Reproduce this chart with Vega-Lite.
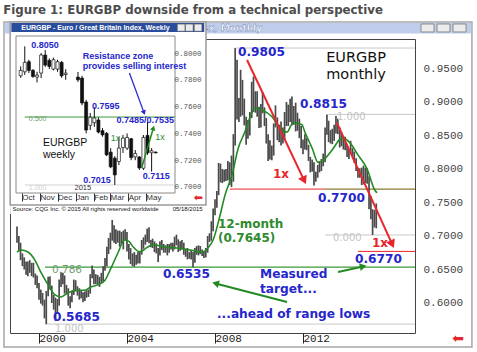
{
"$schema": "https://vega.github.io/schema/vega-lite/v6.json",
"width": 405, "height": 294,
"autosize": {"type": "none"},
"padding": {"left": 10, "top": 39, "right": 62, "bottom": 19},
"background": "white",
"config": {"view": {"stroke": "#444", "strokeWidth": 1}},
"title": {"text": "Figure 1: EURGBP downside from a technical perspective", "anchor": "start", "font": "DejaVu Sans", "fontSize": 11.8, "fontWeight": "bold", "color": "#4d4d4d", "offset": 4},
"datasets": {
"monthly": [
{"d":"1999-01","o":0.711,"h":0.714,"l":0.69,"c":0.698},{"d":"1999-02","o":0.698,"h":0.7,"l":0.678,"c":0.685},{"d":"1999-03","o":0.685,"h":0.69,"l":0.664,"c":0.672},{"d":"1999-04","o":0.672,"h":0.674,"l":0.655,"c":0.663},{"d":"1999-05","o":0.663,"h":0.668,"l":0.65,"c":0.655},{"d":"1999-06","o":0.655,"h":0.662,"l":0.642,"c":0.649},{"d":"1999-07","o":0.649,"h":0.662,"l":0.64,"c":0.658},{"d":"1999-08","o":0.658,"h":0.664,"l":0.645,"c":0.648},{"d":"1999-09","o":0.648,"h":0.66,"l":0.64,"c":0.654},{"d":"1999-10","o":0.654,"h":0.66,"l":0.638,"c":0.641},{"d":"1999-11","o":0.641,"h":0.644,"l":0.627,"c":0.63},{"d":"1999-12","o":0.63,"h":0.641,"l":0.622,"c":0.626},
{"d":"2000-01","o":0.626,"h":0.63,"l":0.605,"c":0.611},{"d":"2000-02","o":0.611,"h":0.62,"l":0.599,"c":0.611},{"d":"2000-03","o":0.611,"h":0.615,"l":0.596,"c":0.602},{"d":"2000-04","o":0.602,"h":0.605,"l":0.577,"c":0.582},{"d":"2000-05","o":0.582,"h":0.618,"l":0.5685,"c":0.613},{"d":"2000-06","o":0.613,"h":0.639,"l":0.61,"c":0.632},{"d":"2000-07","o":0.632,"h":0.64,"l":0.62,"c":0.624},{"d":"2000-08","o":0.624,"h":0.626,"l":0.6,"c":0.609},{"d":"2000-09","o":0.609,"h":0.612,"l":0.59,"c":0.605},{"d":"2000-10","o":0.605,"h":0.608,"l":0.573,"c":0.586},{"d":"2000-11","o":0.586,"h":0.606,"l":0.584,"c":0.6},{"d":"2000-12","o":0.6,"h":0.635,"l":0.596,"c":0.63},
{"d":"2001-01","o":0.63,"h":0.646,"l":0.624,"c":0.637},{"d":"2001-02","o":0.637,"h":0.645,"l":0.628,"c":0.634},{"d":"2001-03","o":0.634,"h":0.641,"l":0.614,"c":0.621},{"d":"2001-04","o":0.621,"h":0.627,"l":0.613,"c":0.619},{"d":"2001-05","o":0.619,"h":0.622,"l":0.596,"c":0.6},{"d":"2001-06","o":0.6,"h":0.61,"l":0.592,"c":0.603},{"d":"2001-07","o":0.603,"h":0.618,"l":0.601,"c":0.615},{"d":"2001-08","o":0.615,"h":0.635,"l":0.612,"c":0.63},{"d":"2001-09","o":0.63,"h":0.634,"l":0.617,"c":0.621},{"d":"2001-10","o":0.621,"h":0.625,"l":0.611,"c":0.617},{"d":"2001-11","o":0.617,"h":0.622,"l":0.605,"c":0.612},{"d":"2001-12","o":0.612,"h":0.619,"l":0.607,"c":0.613},
{"d":"2002-01","o":0.613,"h":0.616,"l":0.601,"c":0.606},{"d":"2002-02","o":0.606,"h":0.617,"l":0.603,"c":0.612},{"d":"2002-03","o":0.612,"h":0.619,"l":0.608,"c":0.612},{"d":"2002-04","o":0.612,"h":0.62,"l":0.609,"c":0.616},{"d":"2002-05","o":0.616,"h":0.643,"l":0.614,"c":0.639},{"d":"2002-06","o":0.639,"h":0.656,"l":0.637,"c":0.648},{"d":"2002-07","o":0.648,"h":0.65,"l":0.628,"c":0.634},{"d":"2002-08","o":0.634,"h":0.643,"l":0.628,"c":0.637},{"d":"2002-09","o":0.637,"h":0.642,"l":0.627,"c":0.631},{"d":"2002-10","o":0.631,"h":0.639,"l":0.624,"c":0.632},{"d":"2002-11","o":0.632,"h":0.645,"l":0.63,"c":0.643},{"d":"2002-12","o":0.643,"h":0.655,"l":0.632,"c":0.652},
{"d":"2003-01","o":0.652,"h":0.667,"l":0.648,"c":0.657},{"d":"2003-02","o":0.657,"h":0.684,"l":0.655,"c":0.681},{"d":"2003-03","o":0.681,"h":0.697,"l":0.673,"c":0.691},{"d":"2003-04","o":0.691,"h":0.705,"l":0.68,"c":0.699},{"d":"2003-05","o":0.699,"h":0.724,"l":0.693,"c":0.712},{"d":"2003-06","o":0.712,"h":0.716,"l":0.69,"c":0.694},{"d":"2003-07","o":0.694,"h":0.71,"l":0.688,"c":0.704},{"d":"2003-08","o":0.704,"h":0.708,"l":0.69,"c":0.698},{"d":"2003-09","o":0.698,"h":0.708,"l":0.684,"c":0.694},{"d":"2003-10","o":0.694,"h":0.706,"l":0.688,"c":0.693},{"d":"2003-11","o":0.693,"h":0.708,"l":0.68,"c":0.698},{"d":"2003-12","o":0.698,"h":0.71,"l":0.693,"c":0.705},
{"d":"2004-01","o":0.705,"h":0.706,"l":0.677,"c":0.684},{"d":"2004-02","o":0.684,"h":0.688,"l":0.665,"c":0.67},{"d":"2004-03","o":0.67,"h":0.682,"l":0.658,"c":0.666},{"d":"2004-04","o":0.666,"h":0.674,"l":0.655,"c":0.668},{"d":"2004-05","o":0.668,"h":0.676,"l":0.654,"c":0.666},{"d":"2004-06","o":0.666,"h":0.672,"l":0.657,"c":0.662},{"d":"2004-07","o":0.662,"h":0.676,"l":0.659,"c":0.67},{"d":"2004-08","o":0.67,"h":0.678,"l":0.659,"c":0.675},{"d":"2004-09","o":0.675,"h":0.694,"l":0.672,"c":0.686},{"d":"2004-10","o":0.686,"h":0.698,"l":0.681,"c":0.693},{"d":"2004-11","o":0.693,"h":0.702,"l":0.687,"c":0.697},{"d":"2004-12","o":0.697,"h":0.711,"l":0.691,"c":0.707},
{"d":"2005-01","o":0.707,"h":0.713,"l":0.689,"c":0.692},{"d":"2005-02","o":0.692,"h":0.694,"l":0.683,"c":0.688},{"d":"2005-03","o":0.688,"h":0.696,"l":0.682,"c":0.688},{"d":"2005-04","o":0.688,"h":0.692,"l":0.676,"c":0.679},{"d":"2005-05","o":0.679,"h":0.689,"l":0.674,"c":0.677},{"d":"2005-06","o":0.677,"h":0.682,"l":0.661,"c":0.674},{"d":"2005-07","o":0.674,"h":0.692,"l":0.671,"c":0.69},{"d":"2005-08","o":0.69,"h":0.694,"l":0.679,"c":0.684},{"d":"2005-09","o":0.684,"h":0.688,"l":0.675,"c":0.682},{"d":"2005-10","o":0.682,"h":0.686,"l":0.675,"c":0.679},{"d":"2005-11","o":0.679,"h":0.688,"l":0.671,"c":0.682},{"d":"2005-12","o":0.682,"h":0.688,"l":0.675,"c":0.686},
{"d":"2006-01","o":0.686,"h":0.69,"l":0.68,"c":0.684},{"d":"2006-02","o":0.684,"h":0.69,"l":0.677,"c":0.682},{"d":"2006-03","o":0.682,"h":0.699,"l":0.68,"c":0.694},{"d":"2006-04","o":0.694,"h":0.702,"l":0.686,"c":0.692},{"d":"2006-05","o":0.692,"h":0.695,"l":0.676,"c":0.683},{"d":"2006-06","o":0.683,"h":0.692,"l":0.678,"c":0.692},{"d":"2006-07","o":0.692,"h":0.694,"l":0.68,"c":0.686},{"d":"2006-08","o":0.686,"h":0.69,"l":0.672,"c":0.674},{"d":"2006-09","o":0.674,"h":0.681,"l":0.669,"c":0.678},{"d":"2006-10","o":0.678,"h":0.682,"l":0.665,"c":0.67},{"d":"2006-11","o":0.67,"h":0.676,"l":0.666,"c":0.675},{"d":"2006-12","o":0.675,"h":0.679,"l":0.665,"c":0.673},
{"d":"2007-01","o":0.673,"h":0.676,"l":0.6535,"c":0.662},{"d":"2007-02","o":0.662,"h":0.682,"l":0.66,"c":0.677},{"d":"2007-03","o":0.677,"h":0.685,"l":0.672,"c":0.68},{"d":"2007-04","o":0.68,"h":0.686,"l":0.671,"c":0.683},{"d":"2007-05","o":0.683,"h":0.685,"l":0.673,"c":0.679},{"d":"2007-06","o":0.679,"h":0.68,"l":0.67,"c":0.674},{"d":"2007-07","o":0.674,"h":0.678,"l":0.667,"c":0.671},{"d":"2007-08","o":0.671,"h":0.682,"l":0.668,"c":0.677},{"d":"2007-09","o":0.677,"h":0.7,"l":0.675,"c":0.697},{"d":"2007-10","o":0.697,"h":0.704,"l":0.691,"c":0.695},{"d":"2007-11","o":0.695,"h":0.722,"l":0.693,"c":0.714},{"d":"2007-12","o":0.714,"h":0.741,"l":0.707,"c":0.734},
{"d":"2008-01","o":0.734,"h":0.755,"l":0.731,"c":0.747},{"d":"2008-02","o":0.747,"h":0.767,"l":0.742,"c":0.764},{"d":"2008-03","o":0.764,"h":0.809,"l":0.761,"c":0.796},{"d":"2008-04","o":0.796,"h":0.808,"l":0.78,"c":0.788},{"d":"2008-05","o":0.788,"h":0.8,"l":0.779,"c":0.787},{"d":"2008-06","o":0.787,"h":0.799,"l":0.781,"c":0.79},{"d":"2008-07","o":0.79,"h":0.8,"l":0.782,"c":0.786},{"d":"2008-08","o":0.786,"h":0.812,"l":0.783,"c":0.801},{"d":"2008-09","o":0.801,"h":0.81,"l":0.776,"c":0.787},{"d":"2008-10","o":0.787,"h":0.82,"l":0.773,"c":0.787},{"d":"2008-11","o":0.787,"h":0.852,"l":0.781,"c":0.838},{"d":"2008-12","o":0.838,"h":0.9805,"l":0.835,"c":0.953},
{"d":"2009-01","o":0.953,"h":0.963,"l":0.874,"c":0.905},{"d":"2009-02","o":0.905,"h":0.906,"l":0.87,"c":0.89},{"d":"2009-03","o":0.89,"h":0.948,"l":0.878,"c":0.929},{"d":"2009-04","o":0.929,"h":0.933,"l":0.88,"c":0.895},{"d":"2009-05","o":0.895,"h":0.905,"l":0.865,"c":0.875},{"d":"2009-06","o":0.875,"h":0.878,"l":0.836,"c":0.85},{"d":"2009-07","o":0.85,"h":0.873,"l":0.845,"c":0.859},{"d":"2009-08","o":0.859,"h":0.885,"l":0.85,"c":0.88},{"d":"2009-09","o":0.88,"h":0.93,"l":0.876,"c":0.915},{"d":"2009-10","o":0.915,"h":0.938,"l":0.885,"c":0.895},{"d":"2009-11","o":0.895,"h":0.916,"l":0.884,"c":0.913},{"d":"2009-12","o":0.913,"h":0.916,"l":0.878,"c":0.888},
{"d":"2010-01","o":0.888,"h":0.893,"l":0.861,"c":0.866},{"d":"2010-02","o":0.866,"h":0.897,"l":0.862,"c":0.896},{"d":"2010-03","o":0.896,"h":0.915,"l":0.883,"c":0.889},{"d":"2010-04","o":0.889,"h":0.892,"l":0.864,"c":0.87},{"d":"2010-05","o":0.87,"h":0.876,"l":0.838,"c":0.848},{"d":"2010-06","o":0.848,"h":0.852,"l":0.812,"c":0.817},{"d":"2010-07","o":0.817,"h":0.843,"l":0.814,"c":0.834},{"d":"2010-08","o":0.834,"h":0.835,"l":0.813,"c":0.823},{"d":"2010-09","o":0.823,"h":0.868,"l":0.82,"c":0.865},{"d":"2010-10","o":0.865,"h":0.895,"l":0.862,"c":0.874},{"d":"2010-11","o":0.874,"h":0.877,"l":0.843,"c":0.845},{"d":"2010-12","o":0.845,"h":0.866,"l":0.84,"c":0.858},
{"d":"2011-01","o":0.858,"h":0.871,"l":0.835,"c":0.855},{"d":"2011-02","o":0.855,"h":0.862,"l":0.838,"c":0.848},{"d":"2011-03","o":0.848,"h":0.885,"l":0.844,"c":0.881},{"d":"2011-04","o":0.881,"h":0.9,"l":0.864,"c":0.89},{"d":"2011-05","o":0.89,"h":0.896,"l":0.864,"c":0.872},{"d":"2011-06","o":0.872,"h":0.905,"l":0.87,"c":0.902},{"d":"2011-07","o":0.902,"h":0.908,"l":0.865,"c":0.88},{"d":"2011-08","o":0.88,"h":0.894,"l":0.866,"c":0.882},{"d":"2011-09","o":0.882,"h":0.899,"l":0.856,"c":0.863},{"d":"2011-10","o":0.863,"h":0.884,"l":0.857,"c":0.868},{"d":"2011-11","o":0.868,"h":0.875,"l":0.846,"c":0.855},{"d":"2011-12","o":0.855,"h":0.864,"l":0.831,"c":0.835},
{"d":"2012-01","o":0.835,"h":0.844,"l":0.822,"c":0.836},{"d":"2012-02","o":0.836,"h":0.852,"l":0.829,"c":0.839},{"d":"2012-03","o":0.839,"h":0.846,"l":0.828,"c":0.834},{"d":"2012-04","o":0.834,"h":0.836,"l":0.812,"c":0.814},{"d":"2012-05","o":0.814,"h":0.818,"l":0.795,"c":0.797},{"d":"2012-06","o":0.797,"h":0.814,"l":0.796,"c":0.808},{"d":"2012-07","o":0.808,"h":0.81,"l":0.7755,"c":0.784},{"d":"2012-08","o":0.784,"h":0.796,"l":0.781,"c":0.795},{"d":"2012-09","o":0.795,"h":0.806,"l":0.787,"c":0.797},{"d":"2012-10","o":0.797,"h":0.812,"l":0.795,"c":0.804},{"d":"2012-11","o":0.804,"h":0.815,"l":0.797,"c":0.809},{"d":"2012-12","o":0.809,"h":0.823,"l":0.804,"c":0.812},
{"d":"2013-01","o":0.812,"h":0.862,"l":0.81,"c":0.856},{"d":"2013-02","o":0.856,"h":0.8815,"l":0.851,"c":0.864},{"d":"2013-03","o":0.864,"h":0.872,"l":0.84,"c":0.843},{"d":"2013-04","o":0.843,"h":0.858,"l":0.838,"c":0.848},{"d":"2013-05","o":0.848,"h":0.86,"l":0.837,"c":0.853},{"d":"2013-06","o":0.853,"h":0.866,"l":0.842,"c":0.857},{"d":"2013-07","o":0.857,"h":0.879,"l":0.853,"c":0.874},{"d":"2013-08","o":0.874,"h":0.875,"l":0.852,"c":0.856},{"d":"2013-09","o":0.856,"h":0.862,"l":0.832,"c":0.835},{"d":"2013-10","o":0.835,"h":0.855,"l":0.834,"c":0.844},{"d":"2013-11","o":0.844,"h":0.849,"l":0.829,"c":0.832},{"d":"2013-12","o":0.832,"h":0.848,"l":0.828,"c":0.833},
{"d":"2014-01","o":0.833,"h":0.836,"l":0.818,"c":0.821},{"d":"2014-02","o":0.821,"h":0.829,"l":0.815,"c":0.825},{"d":"2014-03","o":0.825,"h":0.842,"l":0.822,"c":0.829},{"d":"2014-04","o":0.829,"h":0.831,"l":0.819,"c":0.821},{"d":"2014-05","o":0.821,"h":0.826,"l":0.809,"c":0.815},{"d":"2014-06","o":0.815,"h":0.816,"l":0.797,"c":0.801},{"d":"2014-07","o":0.801,"h":0.802,"l":0.787,"c":0.792},{"d":"2014-08","o":0.792,"h":0.801,"l":0.787,"c":0.796},{"d":"2014-09","o":0.796,"h":0.802,"l":0.776,"c":0.778},{"d":"2014-10","o":0.778,"h":0.805,"l":0.777,"c":0.783},{"d":"2014-11","o":0.783,"h":0.802,"l":0.779,"c":0.799},{"d":"2014-12","o":0.799,"h":0.801,"l":0.778,"c":0.78},
{"d":"2015-01","o":0.78,"h":0.789,"l":0.74,"c":0.748},{"d":"2015-02","o":0.748,"h":0.7595,"l":0.725,"c":0.726},{"d":"2015-03","o":0.726,"h":0.74,"l":0.7015,"c":0.722},{"d":"2015-04","o":0.722,"h":0.739,"l":0.7127,"c":0.737},{"d":"2015-05","o":0.737,"h":0.7485,"l":0.7115,"c":0.726}
],
"ma": [
{"d":"1999-01-01","v":0.676},{"d":"1999-03-10","v":0.679},{"d":"1999-07-01","v":0.676},{"d":"1999-10-25","v":0.664},{"d":"2000-02-01","v":0.646},{"d":"2000-06-01","v":0.627},{"d":"2000-09-25","v":0.612},{"d":"2001-01-01","v":0.609},{"d":"2001-04-25","v":0.615},{"d":"2001-08-20","v":0.619},{"d":"2002-02-01","v":0.619},{"d":"2002-05-10","v":0.624},{"d":"2002-09-05","v":0.627},{"d":"2003-01-01","v":0.634},{"d":"2003-04-10","v":0.652},{"d":"2003-08-05","v":0.675},{"d":"2003-11-20","v":0.694},{"d":"2004-02-01","v":0.692},{"d":"2004-04-10","v":0.684},{"d":"2004-08-05","v":0.676},{"d":"2004-12-01","v":0.683},{"d":"2005-03-10","v":0.687},{"d":"2005-08-20","v":0.684},{"d":"2006-04-10","v":0.682},{"d":"2006-11-10","v":0.679},{"d":"2007-06-15","v":0.676},{"d":"2007-09-05","v":0.682},{"d":"2007-12-01","v":0.694},{"d":"2008-03-25","v":0.731},{"d":"2008-06-15","v":0.761},{"d":"2008-10-10","v":0.791},{"d":"2009-01-20","v":0.831},{"d":"2009-05-10","v":0.855},{"d":"2009-09-05","v":0.884},{"d":"2009-10-25","v":0.891},{"d":"2010-02-20","v":0.888},{"d":"2010-08-05","v":0.878},{"d":"2010-12-15","v":0.861},{"d":"2011-04-10","v":0.855},{"d":"2011-07-20","v":0.869},{"d":"2011-12-15","v":0.866},{"d":"2012-02-01","v":0.855},{"d":"2012-06-01","v":0.831},{"d":"2012-09-05","v":0.81},{"d":"2012-12-01","v":0.813},{"d":"2013-04-25","v":0.828},{"d":"2013-10-10","v":0.846},{"d":"2014-02-20","v":0.839},{"d":"2014-07-01","v":0.821},{"d":"2014-11-25","v":0.801},{"d":"2015-04-10","v":0.768},{"d":"2015-05-15","v":0.7645}
],
"mwin": [{"d":"1998-05-30","d2":"2019-09-05","v":0.5343,"v2":1.0194}],
"mbar": [{"d":"1998-06-10","d2":"2019-08-25","v":1.0022,"v2":1.0179}],
"mbtn": [{"d":"2017-05-13","d2":"2017-12-15","v":1.0045,"v2":1.0164},{"d":"2018-02-03","d2":"2018-09-05","v":1.0045,"v2":1.0164},{"d":"2018-10-26","d2":"2019-05-30","v":1.0045,"v2":1.0164}],
"mwintext": [{"d":"2010-02-20","v":1.0104,"t":"Index, Monthly"}],
"mlevels": [
{"kind":"fib","d":"2008-12-01","d2":"2017-02-02","v":0.9805},{"kind":"fib","d":"2013-03-01","d2":"2017-02-02","v":0.8815},{"kind":"fib","d":"2013-01-01","d2":"2017-02-02","v":0.7015},{"kind":"fib","d":"2000-04-10","d2":"2017-02-02","v":0.5685},
{"kind":"swing","d":"2008-09-05","d2":"2013-01-01","v":0.77},{"kind":"current","d":"2013-01-01","d2":"2017-02-02","v":0.77},
{"kind":"target","d":"2014-07-01","d2":"2017-02-02","v":0.677},{"kind":"support","d":"2000-04-10","d2":"2017-02-02","v":0.6535}
],
"marrows": [
{"kind":"down1","d":"2009-06-16","v":0.9627,"d2":"2012-01-20","v2":0.7830},
{"kind":"down2","d":"2013-07-18","v":0.8687,"d2":"2016-01-20","v2":0.6878},
{"kind":"measured","d":"2013-08-04","v":0.6463,"d2":"2014-09-25","v2":0.6546},
{"kind":"ahead","d":"2011-04-11","v":0.6015,"d2":"2008-01-10","v2":0.6292}
],
"mtext": [
{"kind":"price","d":"2009-01-17","v":0.9746,"t":"0.9805"},{"kind":"price","d":"2011-11-11","v":0.897,"t":"0.8815"},{"kind":"price","d":"2012-09-05","v":0.7567,"t":"0.7700"},{"kind":"price","d":"2014-05-13","v":0.6657,"t":"0.6770"},{"kind":"price","d":"2005-08-20","v":0.6433,"t":"0.6535"},{"kind":"price","d":"2010-01-17","v":0.6438,"t":"Measured"},{"kind":"price","d":"2010-01-17","v":0.6215,"t":"target..."},{"kind":"price","d":"2008-02-03","v":0.5836,"t":"...ahead of range lows"},{"kind":"price","d":"2000-08-20","v":0.5785,"t":"0.5685"},
{"kind":"name","d":"2014-05-30","v":0.9657,"t":"EURGBP"},{"kind":"name","d":"2014-05-30","v":0.9410,"t":"monthly"},
{"kind":"ma","d":"2008-02-19","v":0.7175,"t":"12-month"},{"kind":"ma","d":"2008-02-19","v":0.6965,"t":"(0.7645)"},
{"kind":"ratio","d":"2010-08-20","v":0.7925,"t":"1x"},{"kind":"ratio","d":"2015-02-19","v":0.6896,"t":"1x"},
{"kind":"fib","d":"2013-05-13","v":0.697,"t":"0.000"},{"kind":"fib","d":"2013-07-18","v":0.8776,"t":"1.000"},{"kind":"fib","d":"2000-09-23","v":0.5612,"t":"1.000"},
{"kind":"fibg","d":"2000-08-04","v":0.6492,"t":"0.786"},
{"kind":"nav","d":"2019-01-20","v":0.5463,"t":"⬅"}
],
"weekly": [
{"d":"2014-09-29","o":0.783,"h":0.79,"l":0.7815,"c":0.787},{"d":"2014-10-06","o":0.786,"h":0.805,"l":0.7836,"c":0.793},{"d":"2014-10-13","o":0.7935,"h":0.795,"l":0.785,"c":0.787},{"d":"2014-10-20","o":0.787,"h":0.788,"l":0.7815,"c":0.7825},{"d":"2014-10-27","o":0.782,"h":0.786,"l":0.778,"c":0.7835},{"d":"2014-11-03","o":0.785,"h":0.8,"l":0.7813,"c":0.7985},{"d":"2014-11-10","o":0.7985,"h":0.8022,"l":0.7896,"c":0.791},{"d":"2014-11-17","o":0.7945,"h":0.796,"l":0.788,"c":0.79},{"d":"2014-11-24","o":0.788,"h":0.7965,"l":0.787,"c":0.795},{"d":"2014-12-01","o":0.788,"h":0.795,"l":0.786,"c":0.7935},{"d":"2014-12-08","o":0.793,"h":0.794,"l":0.7815,"c":0.783},{"d":"2014-12-15","o":0.784,"h":0.788,"l":0.78,"c":0.785},
{"d":"2015-01-05","o":0.782,"h":0.7858,"l":0.7784,"c":0.78},{"d":"2015-01-12","o":0.7813,"h":0.783,"l":0.761,"c":0.7627},{"d":"2015-01-19","o":0.7634,"h":0.765,"l":0.74,"c":0.7425},{"d":"2015-01-26","o":0.746,"h":0.7552,"l":0.7425,"c":0.752},{"d":"2015-02-02","o":0.748,"h":0.7595,"l":0.7448,"c":0.7515},{"d":"2015-02-09","o":0.75,"h":0.752,"l":0.74,"c":0.741},{"d":"2015-02-16","o":0.742,"h":0.744,"l":0.7375,"c":0.739},{"d":"2015-02-23","o":0.74,"h":0.741,"l":0.723,"c":0.724},{"d":"2015-03-02","o":0.726,"h":0.729,"l":0.714,"c":0.715},{"d":"2015-03-09","o":0.7215,"h":0.723,"l":0.7015,"c":0.709},{"d":"2015-03-16","o":0.719,"h":0.7373,"l":0.7164,"c":0.729},{"d":"2015-03-23","o":0.7295,"h":0.7388,"l":0.7254,"c":0.7365},{"d":"2015-03-30","o":0.729,"h":0.74,"l":0.7276,"c":0.737},{"d":"2015-04-06","o":0.736,"h":0.7366,"l":0.72,"c":0.722},{"d":"2015-04-13","o":0.7225,"h":0.7276,"l":0.72,"c":0.725},{"d":"2015-04-20","o":0.7224,"h":0.723,"l":0.7127,"c":0.7142},{"d":"2015-04-27","o":0.714,"h":0.7388,"l":0.7127,"c":0.737},{"d":"2015-05-04","o":0.7385,"h":0.7485,"l":0.724,"c":0.7255},{"d":"2015-05-11","o":0.7255,"h":0.729,"l":0.7115,"c":0.727},{"d":"2015-05-18","o":0.726,"h":0.7265,"l":0.725,"c":0.7255}
],
"iwin": [{"d":"2014-09-11","d2":"2015-08-12","v":0.6799,"v2":0.8231}],
"iframe": [{"d":"2014-09-11","d2":"2015-08-12","v":0.6866,"v2":0.8231}],
"ibar": [{"d":"2014-09-13","d2":"2015-08-09","v":0.8157,"v2":0.8224}],
"ibtn": [{"d":"2015-06-24","d2":"2015-07-07","v":0.8163,"v2":0.8216},{"d":"2015-07-08","d2":"2015-07-21","v":0.8163,"v2":0.8216},{"d":"2015-07-23","d2":"2015-08-05","v":0.8163,"v2":0.8216}],
"iplot": [{"d":"2014-09-21","d2":"2015-06-20","v":0.6955,"v2":0.8127}],
"ilevels": [{"kind":"half","d":"2014-10-06","d2":"2015-06-20","v":0.7522},{"kind":"fib","d":"2014-10-06","d2":"2015-06-20","v":0.7015}],
"iarrows": [{"kind":"resist","d":"2015-04-03","v":0.7851,"d2":"2015-04-28","v2":0.7555},{"kind":"up","d":"2015-04-24","v":0.7142,"d2":"2015-05-14","v2":0.7440}],
"itext": [
{"kind":"wintitle","d":"2014-09-30","v":0.8190,"t":"EURGBP - Euro / Great Britain Index, Weekly"},
{"kind":"price","d":"2014-10-17","v":0.806,"t":"0.8050"},{"kind":"price","d":"2015-01-13","v":0.7978,"t":"Resistance zone"},{"kind":"price","d":"2015-01-13","v":0.7903,"t":"provides selling interest"},{"kind":"price","d":"2015-01-29","v":0.7604,"t":"0.7595"},{"kind":"price","d":"2015-03-12","v":0.75,"t":"0.7485/0.7535"},{"kind":"price","d":"2015-01-14","v":0.7052,"t":"0.7015"},{"kind":"price","d":"2015-04-26","v":0.7082,"t":"0.7115"},
{"kind":"name","d":"2014-11-06","v":0.7328,"t":"EURGBP"},{"kind":"name","d":"2014-11-06","v":0.7239,"t":"weekly"},
{"kind":"ratio","d":"2015-03-02","v":0.7366,"t":"1x"},{"kind":"ratio","d":"2015-05-17","v":0.7373,"t":"1x"},
{"kind":"fibg","d":"2014-10-13","v":0.7507,"t":"0.500"},{"kind":"fib","d":"2014-10-13","v":0.6995,"t":"1.000"},
{"kind":"year","d":"2014-12-30","v":0.6989,"t":"2015"},
{"kind":"caption","d":"2014-09-15","v":0.6836,"t":"Source: CQG Inc. © 2015 All rights reserved worldwide"},{"kind":"caption","d":"2015-06-16","v":0.6836,"t":"05/18/2015"},
{"kind":"nav","d":"2015-07-30","v":0.6918,"t":"⬅"}
]
},
"layer": [
{
"layer": [
{"data": {"name": "mwin"}, "mark": {"type": "rect", "fillOpacity": 0, "stroke": "#a6a6a6", "strokeWidth": 1.5},
 "encoding": {"x": {"field": "d", "type": "temporal", "scale": {"type": "utc", "domain": [{"year": 1998, "month": 9, "date": 7, "utc": true}, {"year": 2017, "month": 2, "date": 2, "utc": true}]}}, "x2": {"field": "d2"},
  "y": {"field": "v", "type": "quantitative", "scale": {"domain": [0.5552, 0.994], "zero": false, "nice": false}}, "y2": {"field": "v2"}}},
{"data": {"name": "mbar"}, "mark": {"type": "rect", "fill": "#bfcdea"},
 "encoding": {"x": {"field": "d", "type": "temporal", "scale": {"type": "utc", "domain": [{"year": 1998, "month": 9, "date": 7, "utc": true}, {"year": 2017, "month": 2, "date": 2, "utc": true}]}}, "x2": {"field": "d2"},
  "y": {"field": "v", "type": "quantitative", "scale": {"domain": [0.5552, 0.994], "zero": false, "nice": false}}, "y2": {"field": "v2"}}},
{"data": {"name": "mbtn"}, "mark": {"type": "rect", "fill": "#ececec", "stroke": "#777", "strokeWidth": 0.8},
 "encoding": {"x": {"field": "d", "type": "temporal", "scale": {"type": "utc", "domain": [{"year": 1998, "month": 9, "date": 7, "utc": true}, {"year": 2017, "month": 2, "date": 2, "utc": true}]}}, "x2": {"field": "d2"},
  "y": {"field": "v", "type": "quantitative", "scale": {"domain": [0.5552, 0.994], "zero": false, "nice": false}}, "y2": {"field": "v2"}}},
{"data": {"name": "mwintext"}, "mark": {"type": "text", "align": "right", "baseline": "middle", "font": "DejaVu Sans", "fontWeight": "bold", "fontSize": 9, "fill": "white", "stroke": "#4a62a8", "strokeWidth": 0.3},
 "encoding": {"x": {"field": "d", "type": "temporal", "scale": {"type": "utc", "domain": [{"year": 1998, "month": 9, "date": 7, "utc": true}, {"year": 2017, "month": 2, "date": 2, "utc": true}]}},
  "y": {"field": "v", "type": "quantitative", "scale": {"domain": [0.5552, 0.994], "zero": false, "nice": false}}, "text": {"field": "t"}}},
{"data": {"name": "mlevels"}, "transform": [{"filter": "datum.kind === 'fib'"}], "mark": {"type": "rule", "color": "#c8c8c8", "strokeWidth": 1},
 "encoding": {"x": {"field": "d", "type": "temporal", "scale": {"type": "utc", "domain": [{"year": 1998, "month": 9, "date": 7, "utc": true}, {"year": 2017, "month": 2, "date": 2, "utc": true}]}}, "x2": {"field": "d2"},
  "y": {"field": "v", "type": "quantitative", "scale": {"domain": [0.5552, 0.994], "zero": false, "nice": false}}}},
{"data": {"name": "mlevels"}, "transform": [{"filter": "datum.kind === 'support'"}], "mark": {"type": "rule", "color": "#3a9a3a", "strokeWidth": 1.2},
 "encoding": {"x": {"field": "d", "type": "temporal", "scale": {"type": "utc", "domain": [{"year": 1998, "month": 9, "date": 7, "utc": true}, {"year": 2017, "month": 2, "date": 2, "utc": true}]}}, "x2": {"field": "d2"},
  "y": {"field": "v", "type": "quantitative", "scale": {"domain": [0.5552, 0.994], "zero": false, "nice": false}}}},
{"data": {"name": "mlevels"}, "transform": [{"filter": "datum.kind === 'swing' || datum.kind === 'target'"}], "mark": {"type": "rule", "color": "#e8262a", "strokeWidth": 1},
 "encoding": {"x": {"field": "d", "type": "temporal", "scale": {"type": "utc", "domain": [{"year": 1998, "month": 9, "date": 7, "utc": true}, {"year": 2017, "month": 2, "date": 2, "utc": true}]}}, "x2": {"field": "d2"},
  "y": {"field": "v", "type": "quantitative", "scale": {"domain": [0.5552, 0.994], "zero": false, "nice": false}}}},
{"data": {"name": "mlevels"}, "transform": [{"filter": "datum.kind === 'current'"}], "mark": {"type": "rule", "color": "#8c7a30", "strokeWidth": 1.2},
 "encoding": {"x": {"field": "d", "type": "temporal", "scale": {"type": "utc", "domain": [{"year": 1998, "month": 9, "date": 7, "utc": true}, {"year": 2017, "month": 2, "date": 2, "utc": true}]}}, "x2": {"field": "d2"},
  "y": {"field": "v", "type": "quantitative", "scale": {"domain": [0.5552, 0.994], "zero": false, "nice": false}}}},
{"data": {"name": "monthly"}, "mark": {"type": "rule", "color": "#4a4a4a", "strokeWidth": 1.7},
 "encoding": {"x": {"field": "d", "type": "temporal", "scale": {"type": "utc", "domain": [{"year": 1998, "month": 9, "date": 7, "utc": true}, {"year": 2017, "month": 2, "date": 2, "utc": true}]},
   "axis": {"title": null, "orient": "bottom", "zindex": 1, "values": [{"year": 2000, "utc": true}, {"year": 2004, "utc": true}, {"year": 2008, "utc": true}, {"year": 2012, "utc": true}], "format": "%Y", "domain": false, "ticks": true, "tickSize": 10, "tickColor": "#222", "labelAlign": "left", "labelBaseline": "middle", "labelPadding": -5, "labelDx": 2, "labelFont": "Liberation Mono", "labelFontSize": 11, "labelColor": "#222", "labelFlush": false, "labelOverlap": false, "grid": false}},
  "y": {"field": "l", "type": "quantitative", "scale": {"domain": [0.5552, 0.994], "zero": false, "nice": false},
   "axis": {"title": null, "orient": "right", "zindex": 1, "values": [0.6, 0.65, 0.7, 0.75, 0.8, 0.85, 0.9, 0.95], "format": ".4f", "domain": false, "ticks": false, "labelPadding": 8, "labelFont": "Liberation Mono", "labelFontSize": 11, "labelColor": "#444", "grid": false}},
  "y2": {"field": "h"}}},
{"data": {"name": "ma"}, "mark": {"type": "line", "color": "#238a23", "strokeWidth": 1.6, "interpolate": "monotone"},
 "encoding": {"x": {"field": "d", "type": "temporal", "scale": {"type": "utc", "domain": [{"year": 1998, "month": 9, "date": 7, "utc": true}, {"year": 2017, "month": 2, "date": 2, "utc": true}]}},
  "y": {"field": "v", "type": "quantitative", "scale": {"domain": [0.5552, 0.994], "zero": false, "nice": false}}}},
{"data": {"name": "marrows"}, "transform": [{"filter": "datum.kind === 'down1' || datum.kind === 'down2'"}], "mark": {"type": "rule", "color": "#e8262a", "strokeWidth": 2},
 "encoding": {"x": {"field": "d", "type": "temporal", "scale": {"type": "utc", "domain": [{"year": 1998, "month": 9, "date": 7, "utc": true}, {"year": 2017, "month": 2, "date": 2, "utc": true}]}}, "x2": {"field": "d2"},
  "y": {"field": "v", "type": "quantitative", "scale": {"domain": [0.5552, 0.994], "zero": false, "nice": false}}, "y2": {"field": "v2"}}},
{"data": {"name": "marrows"}, "transform": [{"filter": "datum.kind === 'measured' || datum.kind === 'ahead'"}], "mark": {"type": "rule", "color": "#238a23", "strokeWidth": 2},
 "encoding": {"x": {"field": "d", "type": "temporal", "scale": {"type": "utc", "domain": [{"year": 1998, "month": 9, "date": 7, "utc": true}, {"year": 2017, "month": 2, "date": 2, "utc": true}]}}, "x2": {"field": "d2"},
  "y": {"field": "v", "type": "quantitative", "scale": {"domain": [0.5552, 0.994], "zero": false, "nice": false}}, "y2": {"field": "v2"}}},
{"data": {"name": "marrows"}, "transform": [{"filter": "datum.kind === 'down1'"}], "mark": {"type": "point", "shape": "triangle-down", "filled": true, "color": "#e8262a", "size": 90, "angle": 334.6, "opacity": 1},
 "encoding": {"x": {"field": "d2", "type": "temporal", "scale": {"type": "utc", "domain": [{"year": 1998, "month": 9, "date": 7, "utc": true}, {"year": 2017, "month": 2, "date": 2, "utc": true}]}},
  "y": {"field": "v2", "type": "quantitative", "scale": {"domain": [0.5552, 0.994], "zero": false, "nice": false}}}},
{"data": {"name": "marrows"}, "transform": [{"filter": "datum.kind === 'down2'"}], "mark": {"type": "point", "shape": "triangle-down", "filled": true, "color": "#e8262a", "size": 90, "angle": 335.5, "opacity": 1},
 "encoding": {"x": {"field": "d2", "type": "temporal", "scale": {"type": "utc", "domain": [{"year": 1998, "month": 9, "date": 7, "utc": true}, {"year": 2017, "month": 2, "date": 2, "utc": true}]}},
  "y": {"field": "v2", "type": "quantitative", "scale": {"domain": [0.5552, 0.994], "zero": false, "nice": false}}}},
{"data": {"name": "marrows"}, "transform": [{"filter": "datum.kind === 'measured'"}], "mark": {"type": "point", "shape": "triangle-down", "filled": true, "color": "#238a23", "size": 60, "angle": 257.5, "opacity": 1},
 "encoding": {"x": {"field": "d2", "type": "temporal", "scale": {"type": "utc", "domain": [{"year": 1998, "month": 9, "date": 7, "utc": true}, {"year": 2017, "month": 2, "date": 2, "utc": true}]}},
  "y": {"field": "v2", "type": "quantitative", "scale": {"domain": [0.5552, 0.994], "zero": false, "nice": false}}}},
{"data": {"name": "marrows"}, "transform": [{"filter": "datum.kind === 'ahead'"}], "mark": {"type": "point", "shape": "triangle-down", "filled": true, "color": "#238a23", "size": 60, "angle": 104.4, "opacity": 1},
 "encoding": {"x": {"field": "d2", "type": "temporal", "scale": {"type": "utc", "domain": [{"year": 1998, "month": 9, "date": 7, "utc": true}, {"year": 2017, "month": 2, "date": 2, "utc": true}]}},
  "y": {"field": "v2", "type": "quantitative", "scale": {"domain": [0.5552, 0.994], "zero": false, "nice": false}}}},
{"data": {"name": "mtext"}, "transform": [{"filter": "datum.kind === 'price'"}], "mark": {"type": "text", "align": "left", "baseline": "middle", "font": "DejaVu Sans", "fontWeight": "bold", "fontSize": 12.2, "color": "#2626cc"},
 "encoding": {"x": {"field": "d", "type": "temporal", "scale": {"type": "utc", "domain": [{"year": 1998, "month": 9, "date": 7, "utc": true}, {"year": 2017, "month": 2, "date": 2, "utc": true}]}},
  "y": {"field": "v", "type": "quantitative", "scale": {"domain": [0.5552, 0.994], "zero": false, "nice": false}}, "text": {"field": "t"}}},
{"data": {"name": "mtext"}, "transform": [{"filter": "datum.kind === 'name'"}], "mark": {"type": "text", "align": "center", "baseline": "middle", "font": "DejaVu Sans", "fontSize": 14.5, "color": "#111"},
 "encoding": {"x": {"field": "d", "type": "temporal", "scale": {"type": "utc", "domain": [{"year": 1998, "month": 9, "date": 7, "utc": true}, {"year": 2017, "month": 2, "date": 2, "utc": true}]}},
  "y": {"field": "v", "type": "quantitative", "scale": {"domain": [0.5552, 0.994], "zero": false, "nice": false}}, "text": {"field": "t"}}},
{"data": {"name": "mtext"}, "transform": [{"filter": "datum.kind === 'ma'"}], "mark": {"type": "text", "align": "left", "baseline": "middle", "font": "DejaVu Sans", "fontWeight": "bold", "fontSize": 12, "color": "#2e8b2e"},
 "encoding": {"x": {"field": "d", "type": "temporal", "scale": {"type": "utc", "domain": [{"year": 1998, "month": 9, "date": 7, "utc": true}, {"year": 2017, "month": 2, "date": 2, "utc": true}]}},
  "y": {"field": "v", "type": "quantitative", "scale": {"domain": [0.5552, 0.994], "zero": false, "nice": false}}, "text": {"field": "t"}}},
{"data": {"name": "mtext"}, "transform": [{"filter": "datum.kind === 'ratio'"}], "mark": {"type": "text", "align": "left", "baseline": "middle", "font": "DejaVu Sans", "fontWeight": "bold", "fontSize": 12, "color": "#e8262a"},
 "encoding": {"x": {"field": "d", "type": "temporal", "scale": {"type": "utc", "domain": [{"year": 1998, "month": 9, "date": 7, "utc": true}, {"year": 2017, "month": 2, "date": 2, "utc": true}]}},
  "y": {"field": "v", "type": "quantitative", "scale": {"domain": [0.5552, 0.994], "zero": false, "nice": false}}, "text": {"field": "t"}}},
{"data": {"name": "mtext"}, "transform": [{"filter": "datum.kind === 'fib'"}], "mark": {"type": "text", "align": "left", "baseline": "middle", "font": "DejaVu Sans", "fontSize": 10, "color": "#c4c4c4"},
 "encoding": {"x": {"field": "d", "type": "temporal", "scale": {"type": "utc", "domain": [{"year": 1998, "month": 9, "date": 7, "utc": true}, {"year": 2017, "month": 2, "date": 2, "utc": true}]}},
  "y": {"field": "v", "type": "quantitative", "scale": {"domain": [0.5552, 0.994], "zero": false, "nice": false}}, "text": {"field": "t"}}},
{"data": {"name": "mtext"}, "transform": [{"filter": "datum.kind === 'fibg'"}], "mark": {"type": "text", "align": "left", "baseline": "middle", "font": "DejaVu Sans", "fontSize": 10.5, "color": "#6e9e6e"},
 "encoding": {"x": {"field": "d", "type": "temporal", "scale": {"type": "utc", "domain": [{"year": 1998, "month": 9, "date": 7, "utc": true}, {"year": 2017, "month": 2, "date": 2, "utc": true}]}},
  "y": {"field": "v", "type": "quantitative", "scale": {"domain": [0.5552, 0.994], "zero": false, "nice": false}}, "text": {"field": "t"}}},
{"data": {"name": "mtext"}, "transform": [{"filter": "datum.kind === 'nav'"}], "mark": {"type": "text", "align": "center", "baseline": "middle", "font": "DejaVu Sans", "fontSize": 14, "color": "#e8262a"},
 "encoding": {"x": {"field": "d", "type": "temporal", "scale": {"type": "utc", "domain": [{"year": 1998, "month": 9, "date": 7, "utc": true}, {"year": 2017, "month": 2, "date": 2, "utc": true}]}},
  "y": {"field": "v", "type": "quantitative", "scale": {"domain": [0.5552, 0.994], "zero": false, "nice": false}}, "text": {"field": "t"}}}
]
},
{
"layer": [
{"data": {"name": "iwin"}, "mark": {"type": "rect", "fill": "white"},
 "encoding": {"x": {"field": "d", "type": "temporal", "scale": {"type": "utc", "domain": [{"year": 2014, "month": 9, "date": 21, "utc": true}, {"year": 2015, "month": 6, "date": 20, "utc": true}], "range": [1, 170]}}, "x2": {"field": "d2"},
  "y": {"field": "v", "type": "quantitative", "scale": {"domain": [0.6955, 0.8127], "zero": false, "nice": false, "range": [154, -3]}}, "y2": {"field": "v2"}}},
{"data": {"name": "iframe"}, "mark": {"type": "rect", "fillOpacity": 0, "stroke": "#9a9a9a", "strokeWidth": 1.5},
 "encoding": {"x": {"field": "d", "type": "temporal", "scale": {"type": "utc", "domain": [{"year": 2014, "month": 9, "date": 21, "utc": true}, {"year": 2015, "month": 6, "date": 20, "utc": true}], "range": [1, 170]}}, "x2": {"field": "d2"},
  "y": {"field": "v", "type": "quantitative", "scale": {"domain": [0.6955, 0.8127], "zero": false, "nice": false, "range": [154, -3]}}, "y2": {"field": "v2"}}},
{"data": {"name": "ibar"}, "mark": {"type": "rect", "fill": "#2a4c9c"},
 "encoding": {"x": {"field": "d", "type": "temporal", "scale": {"type": "utc", "domain": [{"year": 2014, "month": 9, "date": 21, "utc": true}, {"year": 2015, "month": 6, "date": 20, "utc": true}], "range": [1, 170]}}, "x2": {"field": "d2"},
  "y": {"field": "v", "type": "quantitative", "scale": {"domain": [0.6955, 0.8127], "zero": false, "nice": false, "range": [154, -3]}}, "y2": {"field": "v2"}}},
{"data": {"name": "ibtn"}, "mark": {"type": "rect", "fill": "#ececec", "stroke": "#666", "strokeWidth": 0.6},
 "encoding": {"x": {"field": "d", "type": "temporal", "scale": {"type": "utc", "domain": [{"year": 2014, "month": 9, "date": 21, "utc": true}, {"year": 2015, "month": 6, "date": 20, "utc": true}], "range": [1, 170]}}, "x2": {"field": "d2"},
  "y": {"field": "v", "type": "quantitative", "scale": {"domain": [0.6955, 0.8127], "zero": false, "nice": false, "range": [154, -3]}}, "y2": {"field": "v2"}}},
{"data": {"name": "iplot"}, "mark": {"type": "rect", "fillOpacity": 0, "stroke": "#8a8a8a", "strokeWidth": 1},
 "encoding": {"x": {"field": "d", "type": "temporal", "scale": {"type": "utc", "domain": [{"year": 2014, "month": 9, "date": 21, "utc": true}, {"year": 2015, "month": 6, "date": 20, "utc": true}], "range": [1, 170]}}, "x2": {"field": "d2"},
  "y": {"field": "v", "type": "quantitative", "scale": {"domain": [0.6955, 0.8127], "zero": false, "nice": false, "range": [154, -3]}}, "y2": {"field": "v2"}}},
{"data": {"name": "ilevels"}, "transform": [{"filter": "datum.kind === 'half'"}], "mark": {"type": "rule", "color": "#3a9a3a", "strokeWidth": 1},
 "encoding": {"x": {"field": "d", "type": "temporal", "scale": {"type": "utc", "domain": [{"year": 2014, "month": 9, "date": 21, "utc": true}, {"year": 2015, "month": 6, "date": 20, "utc": true}], "range": [1, 170]}}, "x2": {"field": "d2"},
  "y": {"field": "v", "type": "quantitative", "scale": {"domain": [0.6955, 0.8127], "zero": false, "nice": false, "range": [154, -3]}}}},
{"data": {"name": "ilevels"}, "transform": [{"filter": "datum.kind === 'fib'"}], "mark": {"type": "rule", "color": "#d4d4d4", "strokeWidth": 1},
 "encoding": {"x": {"field": "d", "type": "temporal", "scale": {"type": "utc", "domain": [{"year": 2014, "month": 9, "date": 21, "utc": true}, {"year": 2015, "month": 6, "date": 20, "utc": true}], "range": [1, 170]}}, "x2": {"field": "d2"},
  "y": {"field": "v", "type": "quantitative", "scale": {"domain": [0.6955, 0.8127], "zero": false, "nice": false, "range": [154, -3]}}}},
{"data": {"name": "weekly"}, "mark": {"type": "rule", "color": "#111", "strokeWidth": 1},
 "encoding": {"x": {"field": "d", "type": "temporal", "scale": {"type": "utc", "domain": [{"year": 2014, "month": 9, "date": 21, "utc": true}, {"year": 2015, "month": 6, "date": 20, "utc": true}], "range": [1, 170]},
   "axis": {"title": null, "orient": "bottom", "offset": -140, "zindex": 2, "values": [{"year": 2014, "month": 10, "date": 1, "utc": true}, {"year": 2014, "month": 11, "date": 1, "utc": true}, {"year": 2014, "month": 12, "date": 1, "utc": true}, {"year": 2015, "month": 1, "date": 1, "utc": true}, {"year": 2015, "month": 2, "date": 1, "utc": true}, {"year": 2015, "month": 3, "date": 1, "utc": true}, {"year": 2015, "month": 4, "date": 1, "utc": true}, {"year": 2015, "month": 5, "date": 1, "utc": true}], "format": "%b", "domain": false, "ticks": true, "tickSize": 8, "tickColor": "#333", "labelAlign": "left", "labelBaseline": "middle", "labelPadding": -4, "labelDx": 1.5, "labelFont": "Liberation Sans", "labelFontSize": 8, "labelColor": "#333", "labelFlush": false, "labelOverlap": false, "grid": false}},
  "y": {"field": "l", "type": "quantitative", "scale": {"domain": [0.6955, 0.8127], "zero": false, "nice": false, "range": [154, -3]},
   "axis": {"title": null, "orient": "right", "offset": -246, "zindex": 2, "values": [0.7, 0.72, 0.74, 0.76, 0.78, 0.8], "format": ".4f", "domain": false, "ticks": false, "labelPadding": 5, "labelFont": "Liberation Mono", "labelFontSize": 7.5, "labelColor": "#555", "grid": false}},
  "y2": {"field": "h"}}},
{"data": {"name": "weekly"}, "mark": {"type": "bar", "width": 3, "stroke": "#111", "strokeWidth": 0.7},
 "encoding": {"x": {"field": "d", "type": "temporal", "scale": {"type": "utc", "domain": [{"year": 2014, "month": 9, "date": 21, "utc": true}, {"year": 2015, "month": 6, "date": 20, "utc": true}], "range": [1, 170]}},
  "y": {"field": "o", "type": "quantitative", "scale": {"domain": [0.6955, 0.8127], "zero": false, "nice": false, "range": [154, -3]}}, "y2": {"field": "c"},
  "fill": {"condition": {"test": "datum.c >= datum.o", "value": "white"}, "value": "#111"}}},
{"data": {"name": "iarrows"}, "transform": [{"filter": "datum.kind === 'resist'"}], "mark": {"type": "rule", "color": "#2a2ad0", "strokeWidth": 1.3},
 "encoding": {"x": {"field": "d", "type": "temporal", "scale": {"type": "utc", "domain": [{"year": 2014, "month": 9, "date": 21, "utc": true}, {"year": 2015, "month": 6, "date": 20, "utc": true}], "range": [1, 170]}}, "x2": {"field": "d2"},
  "y": {"field": "v", "type": "quantitative", "scale": {"domain": [0.6955, 0.8127], "zero": false, "nice": false, "range": [154, -3]}}, "y2": {"field": "v2"}}},
{"data": {"name": "iarrows"}, "transform": [{"filter": "datum.kind === 'up'"}], "mark": {"type": "rule", "color": "#238a23", "strokeWidth": 1.5},
 "encoding": {"x": {"field": "d", "type": "temporal", "scale": {"type": "utc", "domain": [{"year": 2014, "month": 9, "date": 21, "utc": true}, {"year": 2015, "month": 6, "date": 20, "utc": true}], "range": [1, 170]}}, "x2": {"field": "d2"},
  "y": {"field": "v", "type": "quantitative", "scale": {"domain": [0.6955, 0.8127], "zero": false, "nice": false, "range": [154, -3]}}, "y2": {"field": "v2"}}},
{"data": {"name": "iarrows"}, "transform": [{"filter": "datum.kind === 'resist'"}], "mark": {"type": "point", "shape": "triangle-down", "filled": true, "color": "#2a2ad0", "size": 30, "angle": 338.7, "opacity": 1},
 "encoding": {"x": {"field": "d2", "type": "temporal", "scale": {"type": "utc", "domain": [{"year": 2014, "month": 9, "date": 21, "utc": true}, {"year": 2015, "month": 6, "date": 20, "utc": true}], "range": [1, 170]}},
  "y": {"field": "v2", "type": "quantitative", "scale": {"domain": [0.6955, 0.8127], "zero": false, "nice": false, "range": [154, -3]}}}},
{"data": {"name": "iarrows"}, "transform": [{"filter": "datum.kind === 'up'"}], "mark": {"type": "point", "shape": "triangle-down", "filled": true, "color": "#238a23", "size": 30, "angle": 197.2, "opacity": 1},
 "encoding": {"x": {"field": "d2", "type": "temporal", "scale": {"type": "utc", "domain": [{"year": 2014, "month": 9, "date": 21, "utc": true}, {"year": 2015, "month": 6, "date": 20, "utc": true}], "range": [1, 170]}},
  "y": {"field": "v2", "type": "quantitative", "scale": {"domain": [0.6955, 0.8127], "zero": false, "nice": false, "range": [154, -3]}}}},
{"data": {"name": "itext"}, "transform": [{"filter": "datum.kind === 'wintitle'"}], "mark": {"type": "text", "align": "left", "baseline": "middle", "font": "Liberation Sans", "fontWeight": "bold", "fontSize": 7, "color": "white"},
 "encoding": {"x": {"field": "d", "type": "temporal", "scale": {"type": "utc", "domain": [{"year": 2014, "month": 9, "date": 21, "utc": true}, {"year": 2015, "month": 6, "date": 20, "utc": true}], "range": [1, 170]}},
  "y": {"field": "v", "type": "quantitative", "scale": {"domain": [0.6955, 0.8127], "zero": false, "nice": false, "range": [154, -3]}}, "text": {"field": "t"}}},
{"data": {"name": "itext"}, "transform": [{"filter": "datum.kind === 'price'"}], "mark": {"type": "text", "align": "left", "baseline": "middle", "font": "Liberation Sans", "fontWeight": "bold", "fontSize": 9, "color": "#2626cc"},
 "encoding": {"x": {"field": "d", "type": "temporal", "scale": {"type": "utc", "domain": [{"year": 2014, "month": 9, "date": 21, "utc": true}, {"year": 2015, "month": 6, "date": 20, "utc": true}], "range": [1, 170]}},
  "y": {"field": "v", "type": "quantitative", "scale": {"domain": [0.6955, 0.8127], "zero": false, "nice": false, "range": [154, -3]}}, "text": {"field": "t"}}},
{"data": {"name": "itext"}, "transform": [{"filter": "datum.kind === 'name'"}], "mark": {"type": "text", "align": "left", "baseline": "middle", "font": "Liberation Sans", "fontSize": 10.5, "color": "#111"},
 "encoding": {"x": {"field": "d", "type": "temporal", "scale": {"type": "utc", "domain": [{"year": 2014, "month": 9, "date": 21, "utc": true}, {"year": 2015, "month": 6, "date": 20, "utc": true}], "range": [1, 170]}},
  "y": {"field": "v", "type": "quantitative", "scale": {"domain": [0.6955, 0.8127], "zero": false, "nice": false, "range": [154, -3]}}, "text": {"field": "t"}}},
{"data": {"name": "itext"}, "transform": [{"filter": "datum.kind === 'ratio'"}], "mark": {"type": "text", "align": "left", "baseline": "middle", "font": "Liberation Sans", "fontSize": 9, "color": "#2e8b2e"},
 "encoding": {"x": {"field": "d", "type": "temporal", "scale": {"type": "utc", "domain": [{"year": 2014, "month": 9, "date": 21, "utc": true}, {"year": 2015, "month": 6, "date": 20, "utc": true}], "range": [1, 170]}},
  "y": {"field": "v", "type": "quantitative", "scale": {"domain": [0.6955, 0.8127], "zero": false, "nice": false, "range": [154, -3]}}, "text": {"field": "t"}}},
{"data": {"name": "itext"}, "transform": [{"filter": "datum.kind === 'fibg'"}], "mark": {"type": "text", "align": "left", "baseline": "middle", "font": "Liberation Sans", "fontSize": 7, "color": "#6e9e6e"},
 "encoding": {"x": {"field": "d", "type": "temporal", "scale": {"type": "utc", "domain": [{"year": 2014, "month": 9, "date": 21, "utc": true}, {"year": 2015, "month": 6, "date": 20, "utc": true}], "range": [1, 170]}},
  "y": {"field": "v", "type": "quantitative", "scale": {"domain": [0.6955, 0.8127], "zero": false, "nice": false, "range": [154, -3]}}, "text": {"field": "t"}}},
{"data": {"name": "itext"}, "transform": [{"filter": "datum.kind === 'fib'"}], "mark": {"type": "text", "align": "left", "baseline": "middle", "font": "Liberation Sans", "fontSize": 7, "color": "#cfcfcf"},
 "encoding": {"x": {"field": "d", "type": "temporal", "scale": {"type": "utc", "domain": [{"year": 2014, "month": 9, "date": 21, "utc": true}, {"year": 2015, "month": 6, "date": 20, "utc": true}], "range": [1, 170]}},
  "y": {"field": "v", "type": "quantitative", "scale": {"domain": [0.6955, 0.8127], "zero": false, "nice": false, "range": [154, -3]}}, "text": {"field": "t"}}},
{"data": {"name": "itext"}, "transform": [{"filter": "datum.kind === 'year'"}], "mark": {"type": "text", "align": "left", "baseline": "middle", "font": "Liberation Sans", "fontSize": 7.5, "color": "#333"},
 "encoding": {"x": {"field": "d", "type": "temporal", "scale": {"type": "utc", "domain": [{"year": 2014, "month": 9, "date": 21, "utc": true}, {"year": 2015, "month": 6, "date": 20, "utc": true}], "range": [1, 170]}},
  "y": {"field": "v", "type": "quantitative", "scale": {"domain": [0.6955, 0.8127], "zero": false, "nice": false, "range": [154, -3]}}, "text": {"field": "t"}}},
{"data": {"name": "itext"}, "transform": [{"filter": "datum.kind === 'caption'"}], "mark": {"type": "text", "align": "left", "baseline": "middle", "font": "Liberation Sans", "fontSize": 6, "color": "#111"},
 "encoding": {"x": {"field": "d", "type": "temporal", "scale": {"type": "utc", "domain": [{"year": 2014, "month": 9, "date": 21, "utc": true}, {"year": 2015, "month": 6, "date": 20, "utc": true}], "range": [1, 170]}},
  "y": {"field": "v", "type": "quantitative", "scale": {"domain": [0.6955, 0.8127], "zero": false, "nice": false, "range": [154, -3]}}, "text": {"field": "t"}}},
{"data": {"name": "itext"}, "transform": [{"filter": "datum.kind === 'nav'"}], "mark": {"type": "text", "align": "center", "baseline": "middle", "font": "DejaVu Sans", "fontSize": 11, "color": "#e8262a"},
 "encoding": {"x": {"field": "d", "type": "temporal", "scale": {"type": "utc", "domain": [{"year": 2014, "month": 9, "date": 21, "utc": true}, {"year": 2015, "month": 6, "date": 20, "utc": true}], "range": [1, 170]}},
  "y": {"field": "v", "type": "quantitative", "scale": {"domain": [0.6955, 0.8127], "zero": false, "nice": false, "range": [154, -3]}}, "text": {"field": "t"}}}
]
}
],
"resolve": {"scale": {"x": "independent", "y": "independent"}, "axis": {"x": "independent", "y": "independent"}}
}
